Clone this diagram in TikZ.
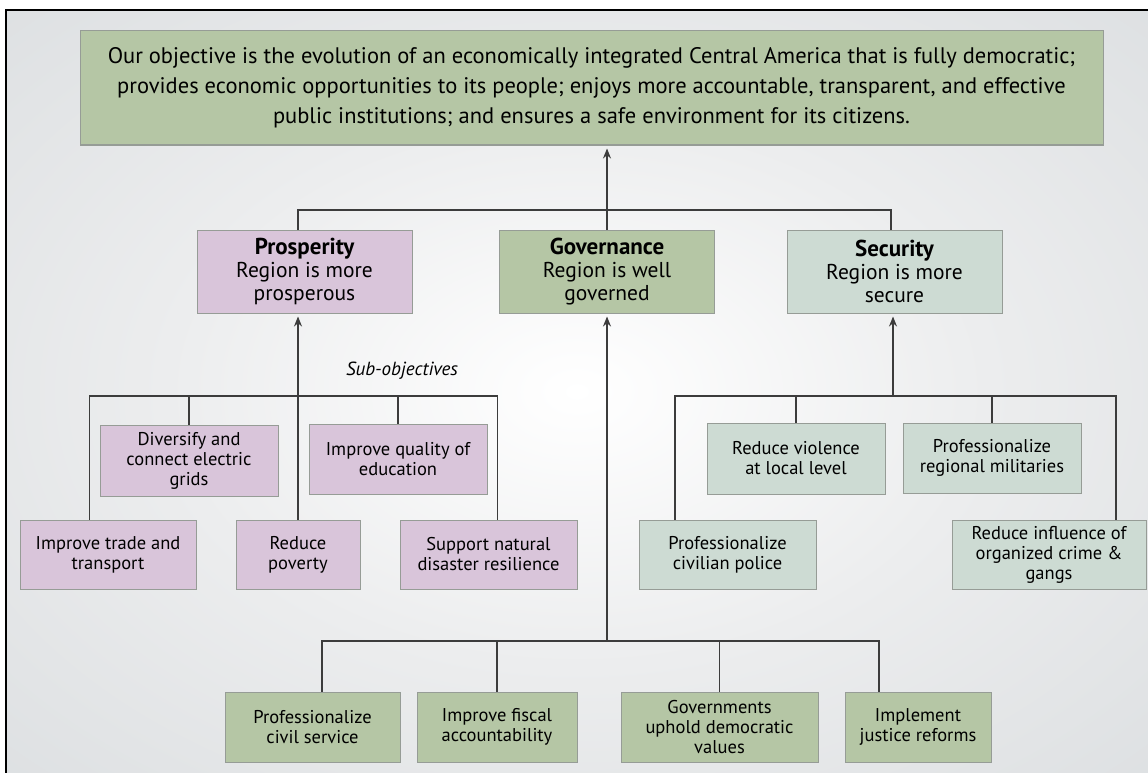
\documentclass[tikz,border=0pt]{standalone}
\usepackage{fontspec}
\setmainfont{PT Sans}
\usetikzlibrary{arrows.meta}

\definecolor{goalgreen}{RGB}{181,198,165}
\definecolor{prospink}{RGB}{217,197,218}
\definecolor{secgreen}{RGB}{205,219,211}
\definecolor{boxline}{RGB}{150,156,150}
\definecolor{bgedge}{RGB}{210,214,217}
\definecolor{bgmid}{RGB}{236,237,238}
\definecolor{linkgray}{RGB}{60,60,60}

\pgfdeclareradialshading{backglow}{\pgfpoint{0bp}{0bp}}{color(0bp)=(white); color(18bp)=(bgmid); color(50bp)=(bgedge); color(75bp)=(bgedge)}

\newcommand\areatitle[1]{{\fontsize{23}{23}\selectfont\bfseries #1}}

\tikzset{
  goalbox/.style={draw=boxline, line width=1pt, fill=goalgreen, inner sep=0pt, align=center,
    font=\fontsize{22.5}{30}\selectfont},
  areabox/.style={draw=boxline, line width=1pt, inner sep=0pt, align=center,
    minimum width=215pt, minimum height=83pt, font=\fontsize{21.5}{23}\selectfont},
  subbox/.style={draw=boxline, line width=1pt, inner sep=0pt, align=center,
    minimum height=70pt, font=\fontsize{18.5}{20}\selectfont},
  link/.style={draw=linkgray, line width=1.1pt},
  uparrow/.style={link, -{Stealth[length=10pt,width=8pt]}, shorten >=3pt}
}

\begin{document}
\begin{tikzpicture}[x=1pt,y=-1pt]
  \useasboundingbox (0,0) rectangle (1148,773);
  % background and frame
  \shade[shading=backglow] (6,10) rectangle (1148,773);
  \draw[black, line width=1.3pt] (6,773) -- (6,10) -- (1148,10);

  % overall objective
  \node[goalbox, minimum width=1023pt, minimum height=114pt] (goal) at (591.5,88)
    {Our objective is the evolution of an economically integrated Central America that is fully democratic;\\
     provides economic opportunities to its people; enjoys more accountable, transparent, and effective\\
     public institutions; and ensures a safe environment for its citizens.};

  % the three areas
  \node[areabox, fill=prospink] (pros) at (304.5,271.5) {\areatitle{Prosperity}\\Region is more\\prosperous};
  \node[areabox, fill=goalgreen] (gov) at (607,271.5) {\areatitle{Governance}\\Region is well\\governed};
  \node[areabox, fill=secgreen] (sec) at (894.5,271.5) {\areatitle{Security}\\Region is more\\secure};

  % prosperity sub-objectives
  \node[font=\fontsize{19}{20}\selectfont\itshape] (sublabel) at (402,371) {Sub-objectives};
  \node[subbox, fill=prospink, minimum width=178pt, minimum height=71pt] (grids) at (189,460.5) {Diversify and\\connect electric\\grids};
  \node[subbox, fill=prospink, minimum width=178pt] (educ) at (398,459) {Improve quality of\\education};
  \node[subbox, fill=prospink, minimum width=176pt, minimum height=69pt] (trade) at (108,554.5) {Improve trade and\\transport};
  \node[subbox, fill=prospink, minimum width=124pt, minimum height=69pt] (poverty) at (298,554.5) {Reduce\\poverty};
  \node[subbox, fill=prospink, minimum width=177pt, minimum height=69pt] (disaster) at (488.5,554.5) {Support natural\\disaster resilience};

  % security sub-objectives
  \node[subbox, fill=secgreen, minimum width=178pt, minimum height=71pt] (violence) at (796,458.5) {Reduce violence\\at local level};
  \node[subbox, fill=secgreen, minimum width=178pt] (militia) at (992,458) {Professionalize\\regional militaries};
  \node[subbox, fill=secgreen, minimum width=177pt, minimum height=69pt] (police) at (727.5,554.5) {Professionalize\\civilian police};
  \node[subbox, fill=secgreen, minimum width=194pt, minimum height=69pt] (influence) at (1049,554.5) {Reduce influence of\\organized crime \&\\gangs};

  % governance sub-objectives
  \node[subbox, fill=goalgreen, minimum width=175pt] (civil) at (312.5,727) {Professionalize\\civil service};
  \node[subbox, fill=goalgreen, minimum width=160pt] (fiscal) at (497,727) {Improve fiscal\\accountability};
  \node[subbox, fill=goalgreen, minimum width=197pt] (uphold) at (719.5,727) {Governments\\uphold democratic\\values};
  \node[subbox, fill=goalgreen, minimum width=146pt] (justice) at (918,727) {Implement\\justice reforms};

  % areas to objective
  \coordinate (tl) at (298,210);
  \coordinate (tr) at (891,210);
  \draw[link] (pros.north -| tl) -- (tl) -- (tr) -- (sec.north -| tr);
  \draw[uparrow] (gov.north) -- (goal.south -| gov.north);

  % prosperity tree
  \coordinate (pl) at (89.5,396);
  \coordinate (pr) at (497.5,396);
  \draw[link] (trade.north -| pl) -- (pl) -- (pr) -- (disaster.north -| pr);
  \draw[link] (grids.north) -- (grids.north |- pl);
  \draw[link] (educ.north) -- (educ.north |- pl);
  \draw[uparrow] (poverty.north) -- (pros.south -| poverty.north);

  % security tree
  \coordinate (sl) at (675,396);
  \coordinate (sr) at (1116,396);
  \coordinate (sm) at (893,396);
  \draw[link] (police.north -| sl) -- (sl) -- (sr) -- (influence.north -| sr);
  \draw[link] (violence.north) -- (violence.north |- sl);
  \draw[link] (militia.north) -- (militia.north |- sl);
  \draw[uparrow] (sm) -- (sec.south -| sm);

  % governance tree
  \coordinate (gl) at (322,641);
  \coordinate (gr) at (879,641);
  \coordinate (gm) at (607,641);
  \draw[link] (civil.north -| gl) -- (gl) -- (gr) -- (justice.north -| gr);
  \draw[link] (fiscal.north) -- (fiscal.north |- gl);
  \draw[link] (uphold.north) -- (uphold.north |- gl);
  \draw[uparrow] (gm) -- (gov.south -| gm);
\end{tikzpicture}
\end{document}
